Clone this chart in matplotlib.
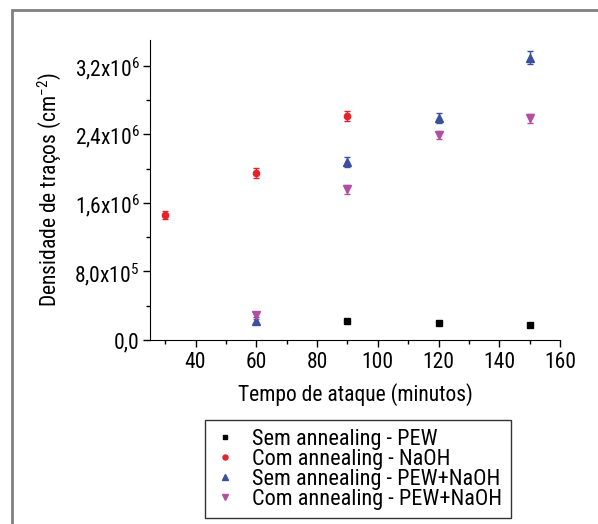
import matplotlib
matplotlib.use("Agg")
import matplotlib.pyplot as plt
from matplotlib.lines import Line2D
from matplotlib.ticker import FixedLocator, MultipleLocator, FuncFormatter
from matplotlib.patches import Rectangle

plt.rcParams['font.family'] = ['Roboto Condensed', 'DejaVu Sans']

# ---------- DATA ----------
labels = ["Sem annealing - PEW", "Com annealing - NaOH",
          "Sem annealing - PEW+NaOH", "Com annealing - PEW+NaOH"]

pew_x = [90, 120, 150]
pew_y = [2.18e5, 2.02e5, 1.79e5]
pew_err = [2.0e4, 2.0e4, 2.0e4]

naoh_x = [30, 60, 90]
naoh_y = [1.458e6, 1.952e6, 2.613e6]
naoh_err = [5.0e4, 6.0e4, 6.0e4]

sem_mix_x = [60, 90, 120, 150]
sem_mix_y = [2.25e5, 2.073e6, 2.586e6, 3.293e6]
sem_mix_err = [4.0e4, 6.0e4, 6.0e4, 7.5e4]

com_mix_x = [60, 90, 120, 150]
com_mix_y = [2.88e5, 1.758e6, 2.392e6, 2.586e6]
com_mix_err = [4.0e4, 5.0e4, 5.0e4, 5.0e4]

y_ticks = [0, 8.0e5, 1.6e6, 2.4e6, 3.2e6]
y_tick_labels = ["0,0", "8,0x10$^{\\mathregular{5}}$", "1,6x10$^{\\mathregular{6}}$",
                 "2,4x10$^{\\mathregular{6}}$", "3,2x10$^{\\mathregular{6}}$"]

series = [
    (pew_x, pew_y, pew_err, 's', 'black', 4),
    (naoh_x, naoh_y, naoh_err, 'o', '#e8202a', 4.5),
    (sem_mix_x, sem_mix_y, sem_mix_err, '^', '#3a4f9e', 6),
    (com_mix_x, com_mix_y, com_mix_err, 'v', '#b24fa3', 6),
]

# ---------- PLOT ----------
fig = plt.figure(figsize=(5.98, 5.24), dpi=100)
ax = fig.add_axes([150/598, 1 - 340/524, 410/598, 300/524])

# grey outer frame
fig.patches.append(Rectangle((12/598, -0.1), 1.2, 1 - 10/524 + 0.1,
                             transform=fig.transFigure, fill=False,
                             edgecolor='#808080', linewidth=2))

handles = []
for (x, y, err, m, c, ms), lab in zip(series, labels):
    ax.errorbar(x, y, yerr=err, fmt=m, color=c, ms=ms, capsize=2.5,
                elinewidth=1, capthick=1)
    handles.append(Line2D([], [], ls='none', marker=m, color=c, ms=ms * 0.8, label=lab))

ax.set_xlim(25, 160)
ax.set_ylim(0, 3.5e6)
ax.xaxis.set_major_locator(MultipleLocator(20))
ax.xaxis.set_minor_locator(MultipleLocator(10))
ax.yaxis.set_major_locator(FixedLocator(y_ticks))
ax.yaxis.set_minor_locator(MultipleLocator(4e5))
ax.yaxis.set_major_formatter(FuncFormatter(lambda v, p: y_tick_labels[y_ticks.index(v)] if v in y_ticks else ""))

ax.spines['top'].set_visible(False)
ax.spines['right'].set_visible(False)
ax.tick_params(which='major', direction='out', length=5, width=1, labelsize=15.5)
ax.tick_params(axis='y', pad=2.5)
ax.tick_params(which='minor', direction='out', length=3, width=1)

ax.set_xlabel("Tempo de ataque (minutos)", fontsize=15.5, labelpad=7)
ax.set_ylabel("Densidade de traços (cm$^{\\mathregular{-2}}$)", fontsize=15.5, labelpad=8)

leg = fig.legend(handles=handles, loc='upper left', bbox_to_anchor=(205/598, 1 - 420/524),
                 fontsize=16, frameon=True, fancybox=False, edgecolor='black',
                 labelspacing=-0.05, handletextpad=0.7, borderpad=0.4,
                 handlelength=1.0, borderaxespad=0)
leg.get_frame().set_linewidth(1)

fig.savefig("out.png", dpi=100)
